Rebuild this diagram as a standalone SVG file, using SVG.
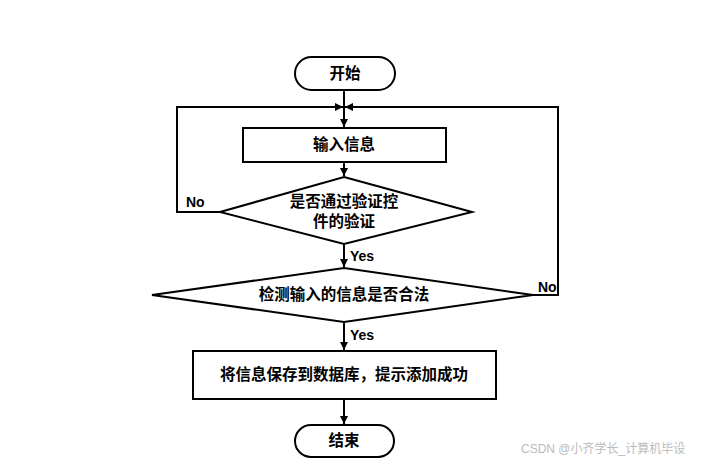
<svg xmlns="http://www.w3.org/2000/svg" width="708" height="463" viewBox="0 0 708 463">
<style>
.s{fill:#fff;stroke:#000;stroke-width:2}
.c{fill:none;stroke:#000;stroke-width:2}
.t{font-family:"Liberation Sans","Noto Sans CJK SC",sans-serif;font-weight:bold;font-size:15.5px;fill:#000;text-anchor:middle}
.l{font-family:"Liberation Sans","Noto Sans CJK SC",sans-serif;font-weight:bold;font-size:14px;fill:#000}
.w{font-family:"Liberation Sans","Noto Sans CJK SC",sans-serif;font-size:12px;fill:#bbb}
</style>
<defs>
<marker id="a" viewBox="0 0 10 10" refX="10" refY="5" markerWidth="4" markerHeight="4" orient="auto" markerUnits="strokeWidth">
<path d="M0,0L10,5L0,10z" fill="#000"/>
</marker>
</defs>
<rect width="708" height="463" fill="#fff"/>
<g id="connectors">
<path class="c" d="M344,90V127" marker-end="url(#a)"/>
<path class="c" d="M220,212H177V107H343" marker-end="url(#a)"/>
<path class="c" d="M533,295H558V107H345" marker-end="url(#a)"/>
<path class="c" d="M344,162V176" marker-end="url(#a)"/>
<path class="c" d="M344,244V267" marker-end="url(#a)"/>
<path class="c" d="M344,322V350" marker-end="url(#a)"/>
<path class="c" d="M344,399V424" marker-end="url(#a)"/>
<text class="l" x="186" y="207">No</text>
<text class="l" x="538" y="292">No</text>
<text class="l" x="350" y="261">Yes</text>
<text class="l" x="350" y="340">Yes</text>
</g>
<g id="start">
<rect class="s" x="295" y="57" width="100" height="33" rx="16.5"/>
<text class="t" x="345" y="79">开始</text>
</g>
<g id="input">
<rect class="s" x="243" y="128" width="203" height="34"/>
<text class="t" x="344" y="150">输入信息</text>
</g>
<g id="check1">
<polygon class="s" points="344,177 472,212 344,244 220,212"/>
<text class="t" x="344" y="207">是否通过验证控</text>
<text class="t" x="344" y="227">件的验证</text>
</g>
<g id="check2">
<polygon class="s" points="344,268 533,295 344,322 152,295"/>
<text class="t" x="344" y="300">检测输入的信息是否合法</text>
</g>
<g id="save">
<rect class="s" x="193" y="351" width="303" height="48"/>
<text class="t" x="344" y="380">将信息保存到数据库，提示添加成功</text>
</g>
<g id="end">
<rect class="s" x="295" y="425" width="99" height="32" rx="16"/>
<text class="t" x="344" y="446">结束</text>
</g>
<text class="w" x="521" y="453">CSDN @小齐学长_计算机毕设</text>
</svg>
